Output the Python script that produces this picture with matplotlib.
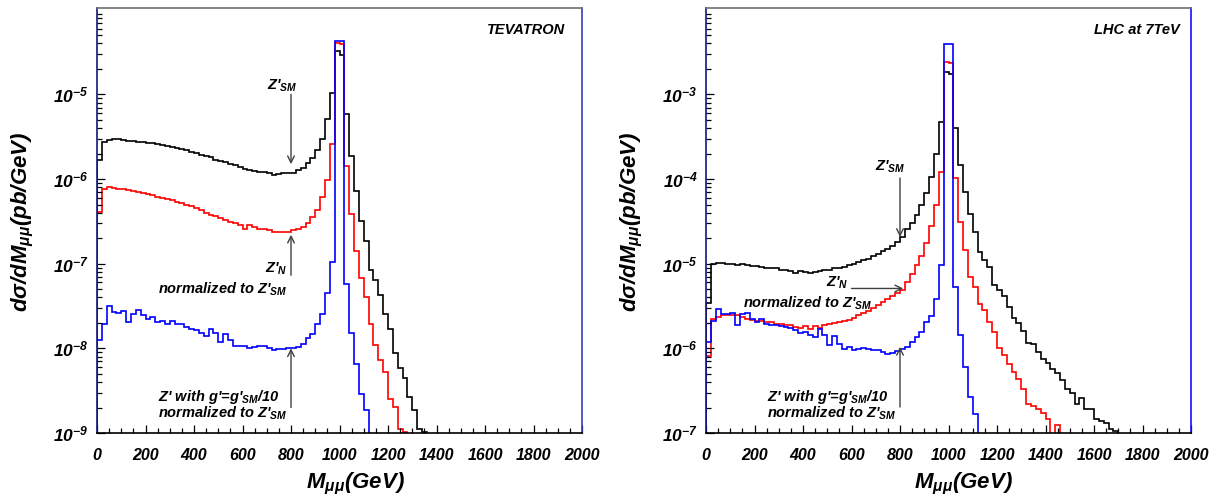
import numpy as np
import matplotlib
matplotlib.use("Agg")
import matplotlib.pyplot as plt
from matplotlib.ticker import FixedLocator, MultipleLocator, LogLocator, FuncFormatter, NullFormatter

plt.rcParams['font.family'] = ['Liberation Sans', 'DejaVu Sans']
plt.rcParams['font.weight'] = 'bold'
plt.rcParams['font.style'] = 'italic'
plt.rcParams['mathtext.fontset'] = 'custom'
plt.rcParams['mathtext.rm'] = 'Liberation Sans:bold:italic'
plt.rcParams['mathtext.it'] = 'Liberation Sans:bold:italic'
plt.rcParams['mathtext.bf'] = 'Liberation Sans:bold:italic'
plt.rcParams['mathtext.sf'] = 'Liberation Sans:bold:italic'

# bin edges in GeV (20 GeV bins)
edges = np.arange(0, 2020, 20)

# ---- TEVATRON ----
tev_sm = [1.67e-6, 2.75e-6, 2.9e-6, 2.95e-6, 2.95e-6, 2.9e-6, 2.85e-6, 2.8e-6, 2.75e-6, 2.75e-6,
          2.7e-6, 2.65e-6, 2.6e-6, 2.5e-6, 2.45e-6, 2.4e-6, 2.3e-6, 2.25e-6, 2.2e-6, 2.1e-6,
          2.05e-6, 1.95e-6, 1.85e-6, 1.8e-6, 1.7e-6, 1.65e-6, 1.6e-6, 1.5e-6, 1.45e-6, 1.4e-6,
          1.3e-6, 1.28e-6, 1.25e-6, 1.22e-6, 1.2e-6, 1.18e-6, 1.13e-6, 1.15e-6, 1.17e-6, 1.18e-6,
          1.18e-6, 1.27e-6, 1.37e-6, 1.53e-6, 1.78e-6, 2.2e-6, 3.0e-6, 5.1e-6, 1.03e-5, 3.27e-5,
          2.92e-5, 5.85e-6, 1.87e-6, 7.2e-7, 3.2e-7, 1.85e-7, 8.5e-8, 6.4e-8, 4.25e-8, 2.53e-8,
          1.71e-8, 8.8e-9, 5.9e-9, 4.5e-9, 2.67e-9, 1.89e-9, 1.13e-9, 1.02e-9]
tev_n = [4.1e-7, 7.7e-7, 8.1e-7, 7.9e-7, 7.7e-7, 7.6e-7, 7.4e-7, 7.2e-7, 7.0e-7, 6.8e-7,
         6.6e-7, 6.4e-7, 6.2e-7, 6.0e-7, 5.8e-7, 5.6e-7, 5.4e-7, 5.2e-7, 5.0e-7, 4.8e-7,
         4.6e-7, 4.3e-7, 4.0e-7, 3.8e-7, 3.7e-7, 3.5e-7, 3.3e-7, 3.1e-7, 3.0e-7, 2.9e-7,
         2.6e-7, 2.9e-7, 2.7e-7, 2.6e-7, 2.55e-7, 2.5e-7, 2.34e-7, 2.4e-7, 2.38e-7, 2.38e-7,
         2.5e-7, 2.54e-7, 2.68e-7, 3.04e-7, 3.52e-7, 4.29e-7, 6.17e-7, 9.7e-7, 2.59e-6, 4.07e-5,
         3.93e-5, 1.42e-6, 3.92e-7, 1.42e-7, 6.7e-8, 4.06e-8, 1.96e-8, 1.11e-8, 7.2e-9, 5.26e-9,
         2.55e-9, 2.03e-9, 1.13e-9, 1.02e-9]
tev_g10 = [1.27e-8, 1.96e-8, 3.17e-8, 2.69e-8, 2.64e-8, 2.75e-8, 2.05e-8, 2.58e-8, 2.82e-8, 2.5e-8,
           2.21e-8, 2.35e-8, 2.05e-8, 2.08e-8, 1.96e-8, 2.08e-8, 1.96e-8, 1.93e-8, 1.79e-8, 1.68e-8,
           1.66e-8, 1.52e-8, 1.39e-8, 1.68e-8, 1.5e-8, 1.19e-8, 1.48e-8, 1.27e-8, 1.06e-8, 1.07e-8,
           1.06e-8, 1.0e-8, 1.04e-8, 1.07e-8, 1.06e-8, 1.0e-8, 9.6e-9, 9.9e-9, 9.9e-9, 1.0e-8,
           1.0e-8, 1.04e-8, 1.14e-8, 1.31e-8, 1.47e-8, 1.96e-8, 2.58e-8, 4.45e-8, 1.05e-7, 4.3e-5,
           4.3e-5, 5.7e-8, 1.52e-8, 6.6e-9, 2.92e-9, 1.85e-9]

# ---- LHC 7 TeV ----
lhc_sm = [3.4e-6, 9.9e-6, 1.02e-5, 1.02e-5, 1.0e-5, 9.9e-6, 9.7e-6, 9.9e-6, 9.6e-6, 9.3e-6,
          9.5e-6, 9.2e-6, 9.0e-6, 8.8e-6, 8.8e-6, 8.5e-6, 8.4e-6, 8.2e-6, 7.8e-6, 8.2e-6,
          8.0e-6, 7.8e-6, 8.0e-6, 8.2e-6, 8.4e-6, 8.5e-6, 8.8e-6, 9.0e-6, 9.2e-6, 9.6e-6,
          1.0e-5, 1.05e-5, 1.1e-5, 1.15e-5, 1.22e-5, 1.3e-5, 1.4e-5, 1.5e-5, 1.62e-5, 1.8e-5,
          2.07e-5, 2.54e-5, 2.99e-5, 3.74e-5, 4.91e-5, 6.76e-5, 1.06e-4, 1.97e-4, 4.74e-4, 1.85e-3,
          1.74e-3, 3.96e-4, 1.46e-4, 6.95e-5, 3.92e-5, 2.38e-5, 1.38e-5, 1.1e-5, 9.16e-6, 5.57e-6,
          4.9e-6, 4.2e-6, 3.09e-6, 2.3e-6, 2.0e-6, 1.6e-6, 1.17e-6, 1.12e-6, 9.07e-7, 7.57e-7,
          6.73e-7, 5.77e-7, 5.13e-7, 4.2e-7, 3.35e-7, 2.97e-7, 2.22e-7, 2.62e-7, 1.94e-7, 1.94e-7,
          1.48e-7, 1.39e-7, 1.31e-7, 1.13e-7, 1.06e-7]
lhc_n = [8.07e-7, 2.25e-6, 2.35e-6, 2.45e-6, 2.5e-6, 2.45e-6, 2.45e-6, 2.35e-6, 2.25e-6, 2.15e-6,
         2.1e-6, 2.1e-6, 2.05e-6, 2.05e-6, 1.96e-6, 1.93e-6, 1.9e-6, 1.9e-6, 1.79e-6, 1.76e-6,
         1.82e-6, 1.71e-6, 1.82e-6, 1.76e-6, 1.9e-6, 1.96e-6, 2.0e-6, 2.05e-6, 2.1e-6, 2.18e-6,
         2.3e-6, 2.45e-6, 2.6e-6, 2.8e-6, 3.0e-6, 3.25e-6, 3.5e-6, 3.85e-6, 4.2e-6, 4.55e-6,
         4.95e-6, 6.0e-6, 7.6e-6, 9.6e-6, 1.25e-5, 1.75e-5, 2.8e-5, 4.9e-5, 1.22e-4, 2.39e-3,
         2.32e-3, 1.02e-4, 3.12e-5, 1.44e-5, 6.98e-6, 5.32e-6, 3.38e-6, 2.82e-6, 2.05e-6, 1.56e-6,
         1.0e-6, 8.28e-7, 6.6e-7, 5.26e-7, 4.4e-7, 3.35e-7, 2.18e-7, 2.07e-7, 1.94e-7, 1.73e-7,
         1.48e-7, 9.0e-8, 1.23e-7]
lhc_g10 = [1.19e-6, 2.11e-6, 2.95e-6, 2.58e-6, 2.55e-6, 2.6e-6, 1.88e-6, 2.58e-6, 2.6e-6, 2.25e-6,
           2.05e-6, 2.25e-6, 1.92e-6, 1.88e-6, 1.88e-6, 1.83e-6, 1.8e-6, 1.76e-6, 1.64e-6, 1.53e-6,
           1.56e-6, 1.43e-6, 1.38e-6, 1.68e-6, 1.43e-6, 1.09e-6, 1.4e-6, 1.13e-6, 9.95e-7, 1.03e-6,
           9.5e-7, 9.95e-7, 1.02e-6, 9.95e-7, 9.6e-7, 9.5e-7, 9.1e-7, 8.67e-7, 8.9e-7, 9.2e-7,
           9.7e-7, 1.04e-6, 1.19e-6, 1.36e-6, 1.56e-6, 2.05e-6, 2.4e-6, 3.88e-6, 9.6e-6, 3.94e-3,
           3.94e-3, 5.32e-6, 1.43e-6, 6.03e-7, 2.67e-7, 1.69e-7]

fig = plt.figure(figsize=(12.22, 5.0), dpi=100)
ax1 = fig.add_axes([97/1222, 67/500, 485/1222, 425/500])
ax2 = fig.add_axes([706/1222, 67/500, 485/1222, 425/500])

arrow_kw = dict(arrowstyle='->', color='#404040', lw=1.0, shrinkA=0, shrinkB=0, mutation_scale=12)
txt_kw = dict(fontsize=10.5, color='black')


def draw_hist(ax, vals, color):
    n = len(vals)
    ax.stairs(vals, edges[:n + 1], color=color, lw=1.2)


def style_axes(ax, ymin, ymax, decades, right_col):
    ax.set_yscale('log')
    ax.set_xlim(0, 2000)
    ax.set_ylim(ymin, ymax)
    ax.xaxis.set_major_locator(MultipleLocator(200))
    ax.xaxis.set_minor_locator(MultipleLocator(50))
    ax.yaxis.set_major_locator(FixedLocator(decades))
    ax.yaxis.set_minor_locator(LogLocator(base=10, subs=np.arange(2, 10), numticks=20))
    ax.yaxis.set_minor_formatter(NullFormatter())
    ax.yaxis.set_major_formatter(FuncFormatter(lambda v, p: r'$10^{%d}$' % round(np.log10(v))))
    ax.tick_params(which='both', direction='in', top=False, right=False, width=0.9)
    ax.tick_params(which='major', length=6)
    ax.tick_params(which='minor', length=3.5)
    ax.tick_params(axis='x', which='major', pad=11, labelsize=11.5)
    ax.tick_params(axis='y', which='major', pad=6, labelsize=12.5)
    for s in ax.spines.values():
        s.set_linewidth(1.2)
    ax.spines['top'].set_color('#707070')
    ax.spines['left'].set_color('#15157a')
    ax.spines['right'].set_color(right_col)
    ax.spines['bottom'].set_color('black')


# left panel
draw_hist(ax1, tev_sm, 'black')
draw_hist(ax1, tev_n, 'red')
draw_hist(ax1, tev_g10, 'blue')
style_axes(ax1, 1e-9, 1.05e-4, [1e-9, 1e-8, 1e-7, 1e-6, 1e-5], '#3a3ac0')
ax1.text(0.965, 0.948, 'TEVATRON', transform=ax1.transAxes, ha='right', va='center', fontsize=10.5)

ax1.annotate('', xy=(800, 1.5e-6), xytext=(800, 1.0e-5), arrowprops=arrow_kw)
ax1.text(765, 1.25e-5, "Z'$_{SM}$", ha='center', va='center', **txt_kw)
ax1.annotate('', xy=(800, 2.2e-7), xytext=(800, 7.3e-8), arrowprops=arrow_kw)
ax1.text(784, 8.6e-8, "Z'$_{N}$", ha='right', va='center', **txt_kw)
ax1.text(251, 5.0e-8, "normalized to Z'$_{SM}$", ha='left', va='center', **txt_kw)
ax1.annotate('', xy=(800, 1.0e-8), xytext=(800, 2.0e-9), arrowprops=arrow_kw)
ax1.text(251, 2.65e-9, "Z' with g'=g'$_{SM}$/10", ha='left', va='center', **txt_kw)
ax1.text(251, 1.71e-9, "normalized to Z'$_{SM}$", ha='left', va='center', **txt_kw)

# right panel
draw_hist(ax2, lhc_sm, 'black')
draw_hist(ax2, lhc_n, 'red')
draw_hist(ax2, lhc_g10, 'blue')
style_axes(ax2, 1e-7, 1.05e-2, [1e-7, 1e-6, 1e-5, 1e-4, 1e-3], '#1010ff')
ax2.text(0.977, 0.948, 'LHC at 7TeV', transform=ax2.transAxes, ha='right', va='center', fontsize=10.5)

ax2.annotate('', xy=(800, 2.07e-5), xytext=(800, 1.03e-4), arrowprops=arrow_kw)
ax2.text(759, 1.38e-4, "Z'$_{SM}$", ha='center', va='center', **txt_kw)
ax2.annotate('', xy=(813, 5.1e-6), xytext=(600, 5.1e-6), arrowprops=arrow_kw)
ax2.text(586, 5.9e-6, "Z'$_{N}$", ha='right', va='center', **txt_kw)
ax2.text(153, 3.41e-6, "normalized to Z'$_{SM}$", ha='left', va='center', **txt_kw)
ax2.annotate('', xy=(800, 1.04e-6), xytext=(800, 2.03e-7), arrowprops=arrow_kw)
ax2.text(251, 2.67e-7, "Z' with g'=g'$_{SM}$/10", ha='left', va='center', **txt_kw)
ax2.text(251, 1.69e-7, "normalized to Z'$_{SM}$", ha='left', va='center', **txt_kw)

# axis titles
for xc in (355, 963):
    fig.text(xc / 1222, 1 - 484 / 500, r"M$_{\mu\mu}$(GeV)", ha='center', va='center', fontsize=16)
for xc in (23, 632):
    fig.text(xc / 1222, 1 - 222 / 500, r"d$\sigma$/dM$_{\mu\mu}$(pb/GeV)", rotation=90,
             ha='center', va='center', fontsize=16)

fig.savefig('out.png', dpi=100, facecolor='white')
